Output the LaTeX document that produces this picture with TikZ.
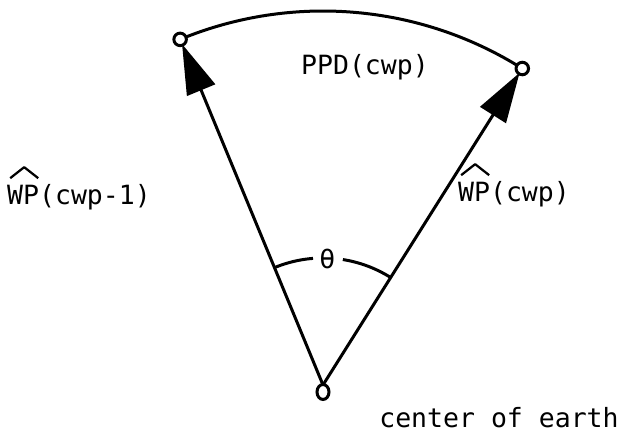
\documentclass[tikz,border=0pt]{standalone}
\usepackage{fontspec}
\setmonofont{DejaVu Sans Mono}
\usetikzlibrary{positioning,calc,arrows.meta,shapes.geometric}

\begin{document}
\begin{tikzpicture}[
  x=0.4pt, y=0.4pt,
  font=\fontsize{10.6}{12}\selectfont\ttfamily,
  pt/.style={circle, draw, line width=1.2pt, fill=white, inner sep=0pt, minimum size=5pt},
  ray/.style={-{Triangle[length=20pt, width=12pt]}, line width=1.2pt, shorten >=2pt},
  rim/.style={line width=1.2pt},
  hat/.style={line width=0.9pt, line join=round},
  lbl/.style={inner sep=1pt}
]
\useasboundingbox (0,0) rectangle (623,437);

% center of earth and the two waypoints on the rim
\coordinate (o) at (323,52);
\coordinate (wpa) at ($(o)+(112.46:374)$);
\coordinate (wpb) at ($(o)+(57.8:374)$);

% arc between the waypoints
\draw[rim] (wpa) arc[start angle=112.46, end angle=57.8, radius=374];

% position vectors
\draw[ray] (o) -- (wpa);
\draw[ray] (o) -- (wpb);

% angle between them, open for the label
\draw[rim] ($(o)+(112.46:127)$) arc[start angle=112.46, end angle=94.5, radius=127];
\draw[rim] ($(o)+(81:127)$) arc[start angle=81, end angle=57.8, radius=127];
\node[inner sep=1pt] (theta) at ($(o)+(88:126)$) {θ};

% small circles on the ends
\node[pt, ellipse, minimum width=4.8pt, minimum height=6pt] (ctr) at ($(o)+(0,-7)$) {};
\node[pt] (ena) at (wpa) {};
\node[pt] (enb) at (wpb) {};

% labels
\node[lbl] (ppd)  at (365,370) {PPD(cwp)};
\node[lbl] (wpl)  at (79,240)  {WP(cwp-1)};
\node[lbl] (wpr)  at (514,243) {WP(cwp)};
\node[lbl] (coe)  at (499,19)  {center of earth};

% hats over WP
\draw[hat] ($(wpl.north west)+(6,3)$) -- ++(14,11) -- ++(14,-11);
\draw[hat] ($(wpr.north west)+(6,3)$) -- ++(14,11) -- ++(14,-11);
\end{tikzpicture}
\end{document}
